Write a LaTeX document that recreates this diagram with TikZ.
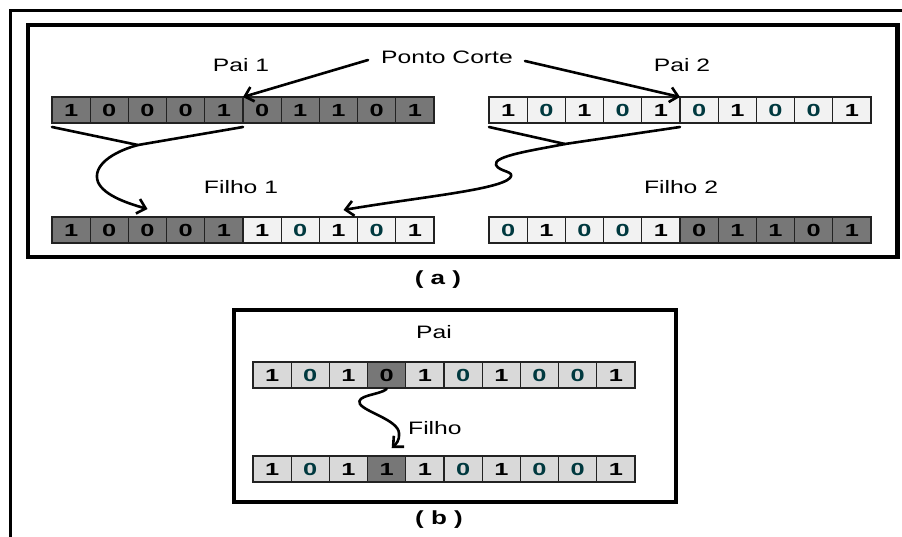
\documentclass[tikz,border=0pt]{standalone}
\usepackage{fontspec}
\setmainfont{Liberation Sans}
\newfontfamily\widefont[FakeStretch=1.37]{Liberation Sans}
\newfontfamily\digitfont[FakeStretch=1.45]{Liberation Sans}
\usetikzlibrary{arrows.meta}

\definecolor{cellDark}{HTML}{777777}
\definecolor{cellLight}{HTML}{F2F2F2}
\definecolor{cellMid}{HTML}{D9D9D9}
\definecolor{cellEdge}{HTML}{222222}
\definecolor{zeroInk}{HTML}{00393F}

\tikzset{
  cell/.style={draw=cellEdge, line width=1.3pt, minimum width=38.2pt,
    minimum height=26pt, inner sep=0pt, outer sep=0pt,
    font=\digitfont\fontsize{17.5}{17.5}\selectfont\bfseries},
  % fill letter + digit: D = dark, L = light, M = medium grey
  D0/.style={fill=cellDark},
  D1/.style={fill=cellDark},
  L0/.style={fill=cellLight, text=zeroInk},
  L1/.style={fill=cellLight},
  M0/.style={fill=cellMid, text=zeroInk},
  M1/.style={fill=cellMid},
  lbl/.style={inner sep=0pt, font=\widefont\fontsize{18}{18}\selectfont},
  captext/.style={inner sep=0pt, font=\widefont\fontsize{19}{19}\selectfont\bfseries},
  frame/.style={draw, line width=4.5pt, inner sep=0pt, outer sep=0pt},
  con/.style={line width=2.6pt, line cap=round, line join=round},
  arr/.style={-{Straight Barb[length=8pt,width=15pt]}},
}

% a row of ten cells; #1 name prefix, #2 left x, #3 top y, #4 fill/digit pairs
\newcommand\chromosome[4]{%
  \foreach \f/\d [count=\i from 0] in {#4}
    \node[cell,\f\d] (#1\i) at ({#2+19.1+38.2*\i},{#3+13}) {\d};
}

\begin{document}
\begin{tikzpicture}[x=1pt,y=-1pt]
\useasboundingbox (0,0) rectangle (902,537);
\fill[white] (0,0) rectangle (902,537);

% outer rule
\draw[line width=3pt] (10.5,540) -- (10.5,10.5) -- (905,10.5);

% panel frames
\node[frame, minimum width=869.5pt, minimum height=232pt] (boxa) at (462.75,141) {};
\node[frame, minimum width=442pt, minimum height=192pt] (boxb) at (455,406) {};
\node[captext] (capa) at (438,280) {( a )};
\node[captext] (capb) at (439,520) {( b )};

% (a) crossover
\chromosome{p1c}{52}{97}{D/1,D/0,D/0,D/0,D/1,D/0,D/1,D/1,D/0,D/1}
\chromosome{p2c}{489}{97}{L/1,L/0,L/1,L/0,L/1,L/0,L/1,L/0,L/0,L/1}
\chromosome{f1c}{52}{217}{D/1,D/0,D/0,D/0,D/1,L/1,L/0,L/1,L/0,L/1}
\chromosome{f2c}{489}{217}{L/0,L/1,L/0,L/0,L/1,D/0,D/1,D/1,D/0,D/1}

\node[lbl] (pai1) at (241,65) {Pai 1};
\node[lbl] (pai2) at (682,65) {Pai 2};
\node[lbl] (pc) at (447,57) {Ponto Corte};
\node[lbl] (fil1) at (241,187) {Filho 1};
\node[lbl] (fil2) at (681,187) {Filho 2};

\draw[con,arr] ([xshift=-13pt,yshift=-3pt]pc.west) -- (p1c4.north east);
\draw[con,arr] ([xshift=12pt,yshift=-4pt]pc.east) -- (p2c4.north east);

\coordinate (m1) at (138,145);
\coordinate (m2) at (565,144);
\coordinate (t1) at ([yshift=8pt]f1c2.north);
\coordinate (t2) at ([xshift=5pt,yshift=7pt]f1c7.north);

\draw[con] ([yshift=-4pt]p1c0.south west) -- (m1) -- ([yshift=-4pt]p1c4.south east);
\draw[con,arr] (m1) .. controls (112,152) and (92,166) .. (98,182)
  .. controls (104,196) and (130,204) .. (t1);

\draw[con] ([yshift=-4pt]p2c0.south west) -- (m2) -- ([yshift=-4pt]p2c4.south east);
\draw[con,arr] (m2) .. controls (535,150) and (492,156) .. (496,165)
  .. controls (499,172) and (516,171) .. (510,178)
  .. controls (498,190) and (420,197) .. (t2);

% (b) mutation
\chromosome{b1c}{253}{362}{M/1,M/0,M/1,D/0,M/1,M/0,M/1,M/0,M/0,M/1}
\chromosome{b2c}{253}{456}{M/1,M/0,M/1,D/1,M/1,M/0,M/1,M/0,M/0,M/1}
\node[lbl] (pai) at (434,332) {Pai};
\node[lbl, anchor=west] (fil) at (408,428) {Filho};

\coordinate (t3) at ([xshift=5pt,yshift=8pt]b2c3.north);
\draw[con,arr] ([yshift=-1pt]b1c3.south) .. controls (380,395) and (355,395) .. (360,404)
  .. controls (365,412) and (398,420) .. (399,433)
  .. controls (400,440) and (396,444) .. (t3);
\end{tikzpicture}
\end{document}
